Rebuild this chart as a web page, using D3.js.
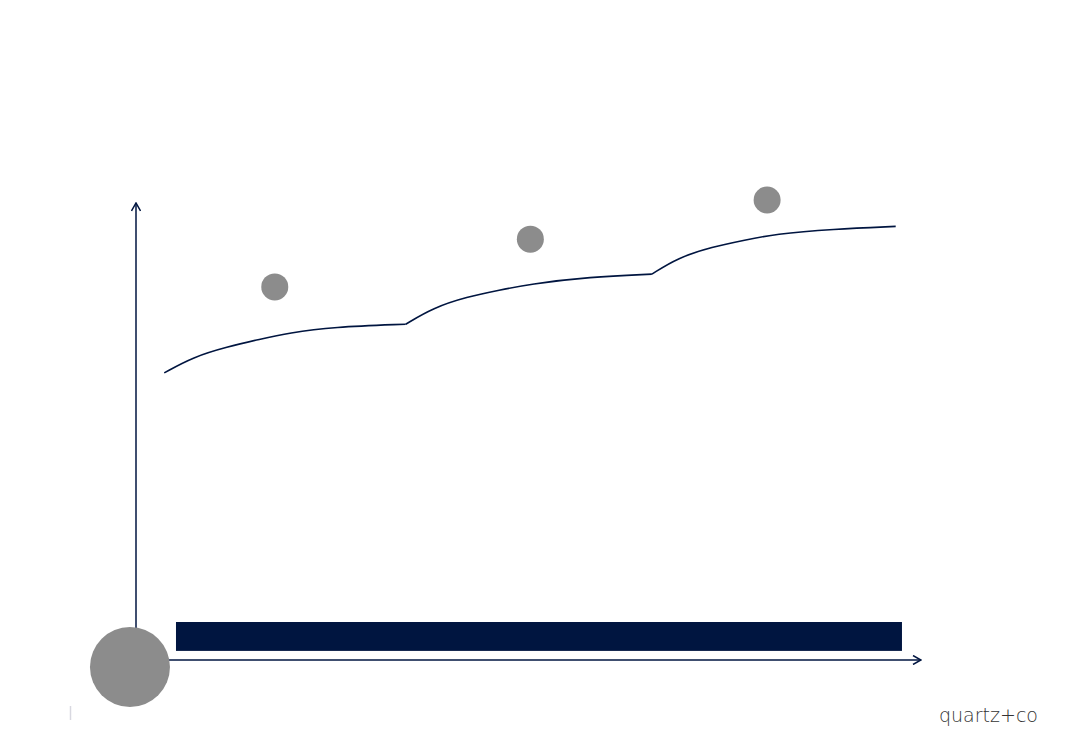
<!DOCTYPE html>
<html>
<head>
<meta charset="utf-8">
<script src="https://cdn.jsdelivr.net/npm/d3@7"></script>
<style>
  body { margin: 0; background: #fff; }
  svg { display: block; }
</style>
</head>
<body>
<div id="chart-area"></div>
<script>
// curve segments (x: 0-100 along the axis, y: 0-100 up the axis)
var segment1 = [[3.6, 63.1], [7.3, 66.6], [11.6, 68.8], [15.8, 70.5], [19.5, 71.9], [25.1, 73.2], [34.4, 73.8]];
var segment2 = [[34.4, 73.8], [37.9, 77.4], [42.2, 79.8], [46.4, 81.3], [50.1, 82.6], [57.9, 84.2], [65.8, 84.8]];
var segment3 = [[65.8, 84.8], [69.1, 88.4], [73.5, 90.8], [77.7, 92.3], [81.4, 93.6], [88.9, 94.7], [96.9, 95.3]];
var segments = [segment1, segment2, segment3];

// grey markers above each segment
var markers = [[17.7, 82.0], [50.3, 92.5], [80.5, 101.1]];

// timeline bar along the bottom and the origin disc
var bar = { x0: 5.1, x1: 97.7, y0: 2.0, y1: 8.35 };
var origin = [-0.77, -1.54];

var navy = "#001540";
var grey = "#8c8c8c";

var width = 1083, height = 750;

var svg = d3.select("#chart-area").append("svg")
	.attr("width", width)
	.attr("height", height);

var x = d3.scaleLinear().domain([0, 100]).range([136, 920]);
var y = d3.scaleLinear().domain([0, 100]).range([660, 205]);

// open arrow heads
var defs = svg.append("defs");
defs.append("marker")
	.attr("id", "arrow")
	.attr("viewBox", "0 0 10 10")
	.attr("refX", 9).attr("refY", 5)
	.attr("markerWidth", 10).attr("markerHeight", 10)
	.attr("markerUnits", "userSpaceOnUse")
	.attr("orient", "auto")
	.append("path")
	.attr("d", "M 1 0.5 L 9 5 L 1 9.5")
	.attr("fill", "none")
	.attr("stroke", navy)
	.attr("stroke-width", 1.5);

// axes
svg.append("line")
	.attr("x1", x(0)).attr("y1", y(0))
	.attr("x2", x(0)).attr("y2", y(100) - 2)
	.attr("stroke", navy).attr("stroke-width", 1.5)
	.attr("marker-end", "url(#arrow)");
svg.append("line")
	.attr("x1", x(0)).attr("y1", y(0))
	.attr("x2", x(100) + 1).attr("y2", y(0))
	.attr("stroke", navy).attr("stroke-width", 1.3)
	.attr("marker-end", "url(#arrow)");

// curve
var line = d3.line()
	.x(function(d) { return x(d[0]); })
	.y(function(d) { return y(d[1]); })
	.curve(d3.curveBasis);

svg.selectAll(".seg").data(segments).enter().append("path")
	.attr("class", "seg")
	.attr("d", line)
	.attr("fill", "none")
	.attr("stroke", navy)
	.attr("stroke-width", 1.6)
	.attr("stroke-linejoin", "round");

svg.selectAll(".dot").data(markers).enter().append("circle")
	.attr("class", "dot")
	.attr("cx", function(d) { return x(d[0]); })
	.attr("cy", function(d) { return y(d[1]); })
	.attr("r", 13.5)
	.attr("fill", grey);

// bar
svg.append("rect")
	.attr("x", x(bar.x0)).attr("y", y(bar.y1))
	.attr("width", x(bar.x1) - x(bar.x0))
	.attr("height", y(bar.y0) - y(bar.y1))
	.attr("fill", navy);

// origin disc
svg.append("circle")
	.attr("cx", x(origin[0])).attr("cy", y(origin[1]))
	.attr("r", 40)
	.attr("fill", grey);

// footer
svg.append("line")
	.attr("x1", 70.5).attr("y1", 706).attr("x2", 70.5).attr("y2", 720)
	.attr("stroke", "#d8d8e0").attr("stroke-width", 1.5);

svg.append("text")
	.attr("x", 1038).attr("y", 722)
	.attr("text-anchor", "end")
	.attr("font-family", "'DejaVu Sans', sans-serif")
	.attr("font-weight", 200)
	.attr("font-size", 19)
	.attr("fill", "#333")
	.text("quartz+co");
</script>
</body>
</html>
